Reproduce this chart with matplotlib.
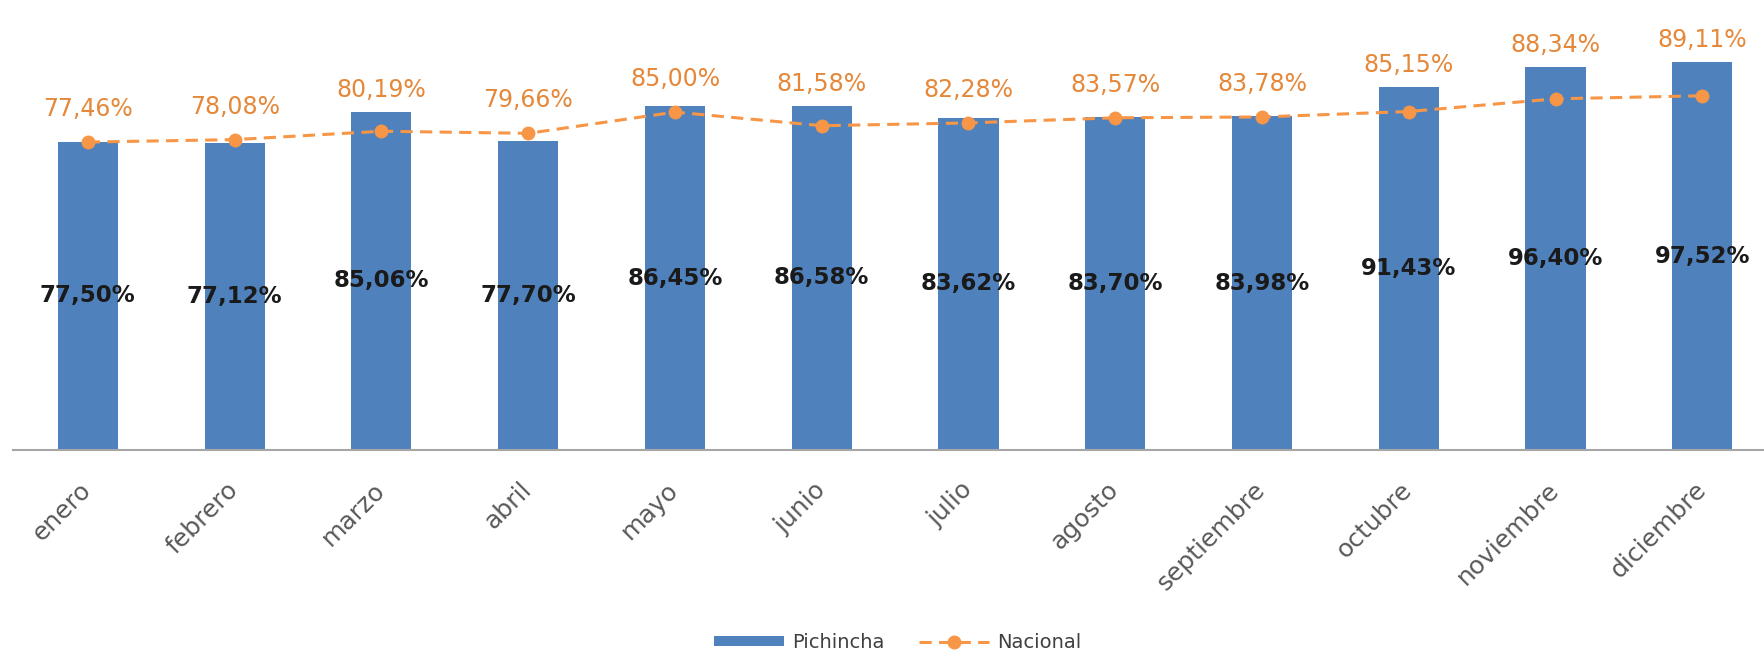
import matplotlib.pyplot as plt
import numpy as np

# monthly coverage, Pichincha vs national
meses = ["enero", "febrero", "marzo", "abril", "mayo", "junio", "julio",
         "agosto", "septiembre", "octubre", "noviembre", "diciembre"]
pichincha = [77.50, 77.12, 85.06, 77.70, 86.45, 86.58, 83.62,
             83.70, 83.98, 91.43, 96.40, 97.52]
nacional = [77.46, 78.08, 80.19, 79.66, 85.00, 81.58, 82.28,
            83.57, 83.78, 85.15, 88.34, 89.11]

BLUE = "#4F81BD"
ORANGE = "#F79646"
ORANGE_TXT = "#E5883A"


def pct(v):
    return f"{v:.2f}%".replace(".", ",")


fig = plt.figure(figsize=(17.64, 6.53), dpi=100)
ax = fig.add_axes([13 / 1764, 203 / 653, 1 - 13 / 1764, 450 / 653])

x = np.arange(len(meses))
bars = ax.bar(x, pichincha, width=0.41, color=BLUE, label="Pichincha", zorder=2)
line, = ax.plot(x, nacional, color=ORANGE, linewidth=2.2, linestyle=(0, (4, 2.4)),
                marker="o", markersize=9, markerfacecolor=ORANGE,
                markeredgecolor=ORANGE, label="Nacional", zorder=3)

# bar labels centred inside the bars
for xi, v in zip(x, pichincha):
    ax.text(xi, v / 2, pct(v), ha="center", va="center", fontsize=16.5,
            fontweight="bold", color="#1A1A1A", zorder=4)

# national labels above the line / bar top
for xi, v, b in zip(x, nacional, pichincha):
    ax.text(xi, max(v + 8.3, b + 5.5), pct(v), ha="center", va="center",
            fontsize=17, color=ORANGE_TXT, zorder=4)

ax.set_xlim(-0.51, 11.42)
ax.set_ylim(0, 113.2)
ax.set_yticks([])
ax.set_xticks(x)
ax.set_xticklabels(meses, rotation=45, ha="right", va="center",
                   rotation_mode="anchor", fontsize=18, color="#595959")
ax.tick_params(axis="x", length=0, pad=26)

for s in ["top", "right", "left"]:
    ax.spines[s].set_visible(False)
ax.spines["bottom"].set_color("#A6A6A6")
ax.spines["bottom"].set_linewidth(1.5)

fig.legend([bars, line], ["Pichincha", "Nacional"], loc="center",
           bbox_to_anchor=(0.509, 0.016), ncol=2, frameon=False,
           fontsize=14, handlelength=3.6, handleheight=0.4, columnspacing=1.8,
           handletextpad=0.4, labelcolor="#404040")

fig.savefig("out.png", dpi=100)
